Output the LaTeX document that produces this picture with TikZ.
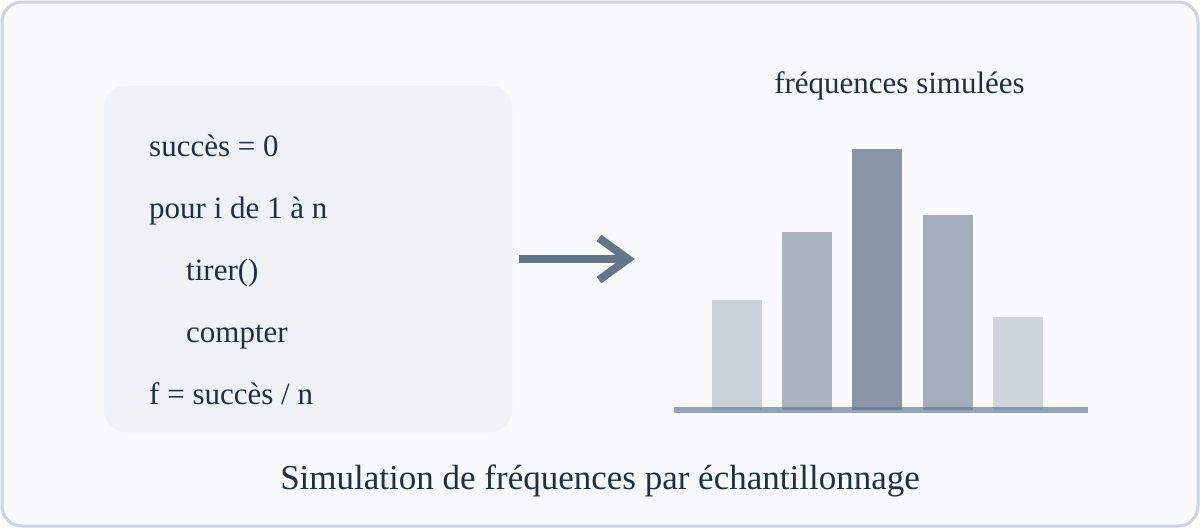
\documentclass[tikz,border=0pt]{standalone}
\usepackage{fontspec}
\setmainfont{Liberation Serif}
\definecolor{framefill}{HTML}{F8FAFC}
\definecolor{framedraw}{HTML}{CDD5E0}
\definecolor{codefill}{HTML}{EFF3F7}
\definecolor{ink}{HTML}{1E3048}
\definecolor{slate}{HTML}{64748B}
\definecolor{axisc}{HTML}{94A3B8}
\begin{document}
\begin{tikzpicture}[x=1pt,y=-1pt,
    codeline/.style={anchor=base west, inner sep=0pt, text=ink, font=\fontsize{31}{31}\selectfont},
    caption/.style={anchor=base, inner sep=0pt, text=ink}]
  \useasboundingbox (0,0) rectangle (1200,528);
  \draw[framedraw, line width=3, fill=framefill, rounded corners=20] (2,2) rectangle (1198,526);
  % pseudo-code
  \fill[codefill, rounded corners=22] (104,86) rectangle (512,432);
  \node[codeline] (init) at (149,156) {succès = 0};
  \node[codeline] (loop) at (149,218) {pour i de 1 à n};
  \node[codeline] (draw) at (186,280) {tirer()};
  \node[codeline] (count) at (186,342) {compter};
  \node[codeline] (freq) at (149,404) {f = succès / n};
  % arrow
  \coordinate (from) at (519,259);
  \coordinate (to) at (628,259);
  \draw[slate, line width=8] (from) -- (to);
  \draw[slate, line width=8, line join=miter] (599,238) -- (to) -- (599,280);
  % histogram
  \node[caption, font=\fontsize{31}{31}\selectfont] (histtitle) at (899.5,93) {fréquences simulées};
  \coordinate (axisL) at (674,409.7);
  \coordinate (axisR) at (1088,409.7);
  \draw[axisc, line width=6] (axisL) -- (axisR);
  \foreach \x/\top/\op in {712/300/0.30, 782/232/0.52, 852/149/0.74, 923/215/0.57, 993/317/0.28}
    \fill[slate, fill opacity=\op] (\x,\top) rectangle (\x+50,410);
  \node[caption, font=\fontsize{35}{35}\selectfont] (title) at (600,489) {Simulation de fréquences par échantillonnage};
\end{tikzpicture}
\end{document}
